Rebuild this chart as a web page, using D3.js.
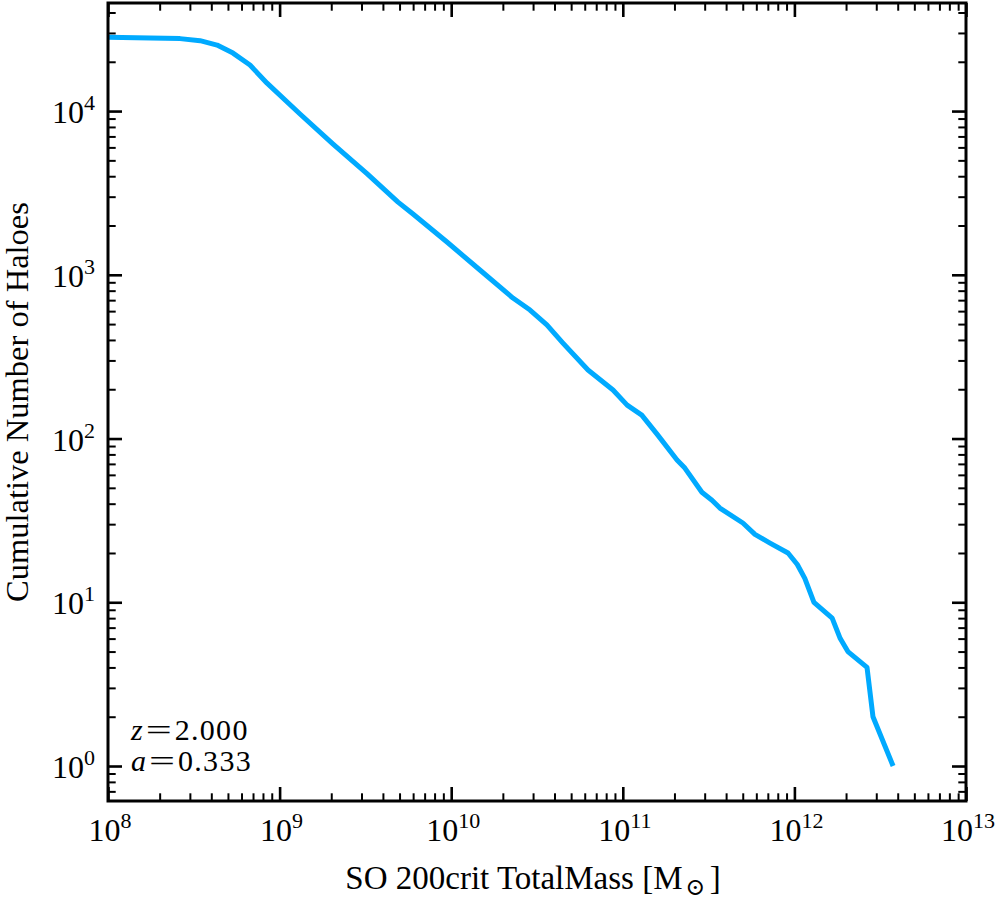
<!DOCTYPE html>
<html>
<head>
<meta charset="utf-8">
<script src="https://cdn.jsdelivr.net/npm/d3@7"></script>
<style>
  body { margin: 0; background: #fff; }
  text { font-family: "Liberation Serif", "Times New Roman", "DejaVu Serif", serif; fill: #000; }
</style>
</head>
<body>
<div id="chart"></div>
<script>
// halo masses [Msun] and cumulative counts
var haloMass = [1.0e8, 1.76e8, 2.63e8, 3.44e8, 4.32e8, 5.35e8, 6.72e8, 8.45e8, 1.315e9, 2.05e9,
  3.23e9, 4.90e9, 5.99e9, 9.45e9, 1.47e10, 2.29e10, 2.88e10, 3.61e10, 4.48e10, 6.27e10,
  8.77e10, 1.06e11, 1.29e11, 1.60e11, 2.07e11, 2.30e11, 2.89e11, 3.31e11, 3.68e11, 5.01e11,
  5.89e11, 7.21e11, 9.18e11, 1.04e12, 1.15e12, 1.30e12, 1.66e12, 1.85e12, 2.05e12, 2.65e12,
  2.87e12, 3.76e12];
var haloCount = [28200, 27900, 27700, 26900, 25300, 22600, 19100, 14800, 9590, 6290,
  4150, 2780, 2350, 1585, 1070, 721, 609, 494, 383, 262,
  198, 160, 139, 105, 74, 66, 47, 42, 37.6, 30.5,
  26, 23, 20, 17, 14, 10, 8, 6, 5, 4,
  2, 1];

var xExponents = [8, 9, 10, 11, 12, 13];
var yExponents = [0, 1, 2, 3, 4];
var annotLines = [["z", "2.000"], ["a", "0.333"]];

var xLabel = "SO 200crit TotalMass [M";
var yLabel = "Cumulative Number of Haloes";

var margin = {top: 3, right: 30, bottom: 99, left: 108},
  width = 996 - margin.left - margin.right,
  height = 900 - margin.top - margin.bottom;

var svg = d3.select("#chart").append("svg")
  .attr("width", 996)
  .attr("height", 900)
  .append("g")
  .attr("transform", "translate(" + margin.left + "," + margin.top + ")");

var x = d3.scaleLog().domain([1e8, 1e13]).range([0, width]);
var y = d3.scaleLog().domain([Math.pow(10, -0.2137), Math.pow(10, 4.66)]).range([height, 0]);

function isMajor(v){
  var l = Math.log10(v);
  return Math.abs(l - Math.round(l)) < 1e-6;
}

var xTicks = x.ticks();
var yTicks = y.ticks();

function drawTicks(axisGen, transform){
  var g = svg.append("g")
    .attr("transform", transform)
    .call(axisGen.tickFormat(""));
  g.select(".domain").remove();
  g.selectAll(".tick line")
    .attr("stroke", "#000")
    .each(function(d){
      var line = d3.select(this);
      var major = isMajor(d);
      line.attr("stroke-width", major ? 2.6 : 2);
      var k = major ? 1 : 0.55;
      ["x2", "y2"].forEach(function(a){
        var v = +line.attr(a);
        if(v) line.attr(a, v * k);
      });
    });
  return g;
}

drawTicks(d3.axisBottom(x).tickValues(xTicks).tickSize(-14), "translate(0," + height + ")");
drawTicks(d3.axisTop(x).tickValues(xTicks).tickSize(-14), "translate(0,0)");
drawTicks(d3.axisLeft(y).tickValues(yTicks).tickSize(-14), "translate(0,0)");
drawTicks(d3.axisRight(y).tickValues(yTicks).tickSize(-14), "translate(" + width + ",0)");

svg.append("clipPath").attr("id", "plotClip")
  .append("rect").attr("width", width).attr("height", height);

var line = d3.line()
  .x(function(d){ return x(d[0]); })
  .y(function(d){ return y(d[1]); });

svg.append("path")
  .datum(d3.zip(haloMass, haloCount))
  .attr("clip-path", "url(#plotClip)")
  .attr("fill", "none")
  .attr("stroke", "#00aaff")
  .attr("stroke-width", 5)
  .attr("stroke-linejoin", "round")
  .attr("d", line);

svg.append("rect")
  .attr("width", width)
  .attr("height", height)
  .attr("fill", "none")
  .attr("stroke", "#000")
  .attr("stroke-width", 3);

// tick labels with superscript exponents
xExponents.forEach(function(e){
  var t = svg.append("text")
    .attr("x", x(Math.pow(10, e)) + 2)
    .attr("y", height + 40)
    .attr("text-anchor", "middle")
    .style("font-size", "32px");
  t.append("tspan").text("10");
  t.append("tspan").attr("dy", -13).style("font-size", "22px").text(e);
});

yExponents.forEach(function(e){
  var t = svg.append("text")
    .attr("x", -13)
    .attr("y", y(Math.pow(10, e)) + 12)
    .attr("text-anchor", "end")
    .style("font-size", "32px");
  t.append("tspan").text("10");
  t.append("tspan").attr("dy", -13).style("font-size", "22px").text(e);
});

// axis labels
var xl = svg.append("text")
  .attr("x", width / 2 - 4)
  .attr("y", height + 88)
  .attr("text-anchor", "middle")
  .style("font-size", "33px");
xl.append("tspan").text(xLabel);
xl.append("tspan").attr("dx", 3).attr("dy", 6).style("font-size", "24px").text("\u2299");
xl.append("tspan").attr("dx", 4).attr("dy", -6).text("]");

svg.append("text")
  .attr("transform", "translate(" + (28 - margin.left) + "," + (height / 2) + ") rotate(-90)")
  .attr("text-anchor", "middle")
  .style("font-size", "32.5px")
  .text(yLabel);

// redshift / scale factor note
annotLines.forEach(function(p, i){
  var t = svg.append("text")
    .attr("x", 23)
    .attr("y", 736.5 + i * 31.5)
    .style("font-size", "30px");
  t.append("tspan").style("font-style", "italic").text(p[0]);
  t.append("tspan").attr("dx", 3)
    .attr("textLength", 26).attr("lengthAdjust", "spacingAndGlyphs").text("=");
  t.append("tspan").attr("dx", 3).style("letter-spacing", "1.3px").text(p[1]);
});
</script>
</body>
</html>
